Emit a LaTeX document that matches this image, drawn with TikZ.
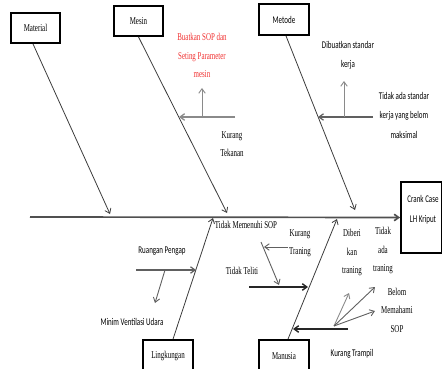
\documentclass[tikz,border=0pt]{standalone}
\usepackage{fontspec}
\setmainfont{Liberation Serif}
\newfontfamily\narrowserif[FakeStretch=0.66]{Liberation Serif}
\newfontfamily\narrowsans[FakeStretch=0.68]{Carlito}
\usetikzlibrary{arrows.meta}
\definecolor{bonegray}{HTML}{3C3C3C}
\definecolor{spinegray}{HTML}{505050}
\definecolor{subgray}{HTML}{8A8A8A}
\definecolor{subdark}{HTML}{606060}
\definecolor{ideared}{HTML}{F03030}
\begin{document}
\begin{tikzpicture}[x=1pt,y=-1pt,
  tip/.tip={Straight Barb[length=4.5pt,width=6.5pt]},
  catbox/.style={draw=black, line width=1.8pt, fill=white, inner sep=0pt,
    minimum width=49pt, minimum height=30pt},
  serif/.style={font=\narrowserif\fontsize{10.5}{18.5}\selectfont, align=center, inner sep=0pt},
  sans/.style={font=\narrowsans\fontsize{10.3}{19.5}\selectfont, align=center, inner sep=0pt},
  spine/.style={draw=spinegray, line width=1.7pt, -tip},
  bone/.style={draw=bonegray, line width=0.8pt, -tip},
  sub/.style={draw=subgray, line width=1.3pt, -tip},
  subthin/.style={draw=subgray, line width=0.9pt, -tip},
  subdk/.style={draw=subdark, line width=1.2pt, -tip},
  subdkthin/.style={draw=subdark, line width=0.9pt, -tip},
  subblk/.style={draw=black!85, line width=1.4pt, -tip}]
\useasboundingbox (0,0) rectangle (442,369);
\clip (0,0) rectangle (442,369);

% category boxes
\node[catbox, serif] (material) at (35.5,28) {Material};
\node[catbox, serif] (mesin) at (138.5,21) {Mesin};
\node[catbox, sans, minimum width=50pt, minimum height=31pt] (metode) at (284,19.5) {Metode};
\node[catbox, serif, minimum width=50pt, minimum height=32pt] (lingk) at (168,356) {Lingkungan};
\node[catbox, serif, minimum width=50pt, minimum height=32pt] (manusia) at (284,356) {Manusia};

% effect box
\node[catbox, minimum width=41pt, minimum height=71pt] (crank) at (421.5,217.5) {};
\node[sans] (cranktxt) at (423,210) {Crank Case\\LH Kriput};

% spine and bones
\coordinate (tail) at (30,217);
\coordinate (jmat) at (110,214);
\coordinate (jmes) at (227,213);
\coordinate (jmet) at (355,210);
\coordinate (jlin) at (213,218);
\coordinate (jman) at (337,219);
\draw[spine] (tail) -- (crank.west);
\draw[bone] ([xshift=-2.5pt]material.south) -- (jmat);
\draw[bone] (mesin.south) -- (jmes);
\draw[bone] ([xshift=2pt]metode.south) -- (jmet);
\draw[bone] ([xshift=5pt]lingk.north) -- (jlin);
\draw[bone] ([xshift=4pt]manusia.north) -- (jman);

% Mesin
\node[serif, text=ideared] (mesfix) at (202,55.5) {Buatkan SOP dan\\Seting Parameter\\mesin};
\node[serif] (tekanan) at (232,144) {Kurang\\Tekanan};
\coordinate (mes0) at (235,117);
\coordinate (mes1) at (179,117);
\coordinate (mes2) at (202,117);
\coordinate (mes3) at (202,88);
\draw[sub] (mes0) -- (mes1);
\draw[subthin] (mes2) -- (mes3);

% Metode
\node[sans] (metfix) at (348,55.5) {Dibuatkan standar\\kerja};
\node[sans] (standar) at (404,115) {Tidak ada standar\\kerja yang belom\\maksimal};
\coordinate (met0) at (373,117);
\coordinate (met1) at (318,117);
\coordinate (met2) at (344,117);
\coordinate (met3) at (344,81);
\draw[subdk] (met0) -- (met1);
\draw[subthin] (met2) -- (met3);

% Lingkungan
\node[sans] (pengap) at (162,251) {Ruangan Pengap};
\node[sans] (ventilasi) at (132,322) {Minim Ventilasi Udara};
\coordinate (lin0) at (136,270);
\coordinate (lin1) at (196,270);
\coordinate (lin2) at (165,270);
\coordinate (lin3) at (155,303);
\draw[subdk] (lin0) -- (lin1);
\draw[subdkthin] (lin2) -- (lin3);

% Manusia
\node[serif] (sop) at (246,225) {Tidak Memenuhi SOP};
\node[serif] (traning) at (300,243) {Kurang\\Traning};
\node[serif] (teliti) at (242,271) {Tidak Teliti};
\node[serif] (diberi) at (352,252.5) {Diberi\\kan\\traning};
\node[serif] (tidakada) at (383,250.5) {Tidak\\ada\\traning};
\node[serif] (belom) at (397,310) {Belom\\Memahami\\SOP};
\node[sans] (trampil) at (352,354) {Kurang Trampil};
\coordinate (man0) at (288,247);
\coordinate (man1) at (264,247);
\coordinate (man2) at (261,242);
\coordinate (man3) at (279,285);
\coordinate (man4) at (249,287);
\coordinate (man5) at (308,287);
\coordinate (man6) at (348,329);
\coordinate (man7) at (293,329);
\coordinate (fan) at (334,326);
\coordinate (fan1) at (349,293);
\coordinate (fan2) at (375,287);
\coordinate (fan3) at (375,311);
\draw[subdkthin] (man0) -- (man1);
\draw[subdkthin] (man2) -- (man3);
\draw[subblk] (man4) -- (man5);
\draw[subblk] (man6) -- (man7);
\draw[subthin] (fan) -- (fan1);
\draw[subdkthin] (fan) -- (fan2);
\draw[subdkthin] (fan) -- (fan3);
\end{tikzpicture}
\end{document}
